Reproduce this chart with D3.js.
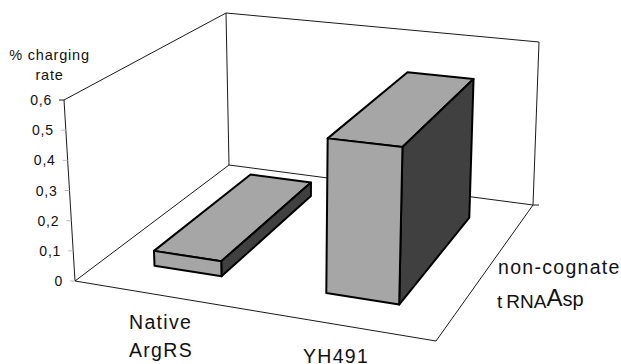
<!DOCTYPE html>
<html>
<head>
<meta charset="utf-8">
<script src="https://cdn.jsdelivr.net/npm/d3@7"></script>
<style>
  html, body { margin: 0; padding: 0; background: #fff; }
  text { font-family: "Liberation Sans", Arial, sans-serif; fill: #111; }
</style>
</head>
<body>
<div id="chart"></div>
<script>
const categories = [['Native', 'ArgRS'], ['YH491']];
const charging = [0.05, 0.5];
const yTicks = [0, 0.1, 0.2, 0.3, 0.4, 0.5, 0.6];
const yTitle = ['% charging', 'rate'];

// corners of the chart box as seen on the page
const floorQuad = [[75, 281], [436, 341], [533, 205], [229, 165]];
const topQuad = [[64, 100], [441, 142], [539, 42], [226, 13]];

// unit square -> quad
function homography(q) {
    const [p0, p1, p2, p3] = q;
    const dx1 = p1[0] - p2[0], dx2 = p3[0] - p2[0], sx = p0[0] - p1[0] + p2[0] - p3[0];
    const dy1 = p1[1] - p2[1], dy2 = p3[1] - p2[1], sy = p0[1] - p1[1] + p2[1] - p3[1];
    const den = dx1 * dy2 - dx2 * dy1;
    const g = (sx * dy2 - dx2 * sy) / den;
    const h = (dx1 * sy - sx * dy1) / den;
    const a = p1[0] - p0[0] + g * p1[0], b = p3[0] - p0[0] + h * p3[0];
    const d = p1[1] - p0[1] + g * p1[1], e = p3[1] - p0[1] + h * p3[1];
    return (u, v) => {
        const w = g * u + h * v + 1;
        return [(a * u + b * v + p0[0]) / w, (d * u + e * v + p0[1]) / w];
    };
}
const floorAt = homography(floorQuad);
const topAt = homography(topQuad);

const xScale = d3.scaleBand().domain(d3.range(categories.length)).range([0, 1]).paddingInner(0.6).paddingOuter(0.3);
const zScale = d3.scaleLinear().domain([0, 1]).range([0.17, 0.83]);
const yScale = d3.scaleLinear().domain([0, 0.6]).range([0, 1]);

function project(u, v, val) {
    const f = floorAt(u, v), t = topAt(u, v), k = yScale(val);
    return [f[0] + (t[0] - f[0]) * k, f[1] + (t[1] - f[1]) * k];
}

const svg = d3.select('#chart').append('svg')
    .attr('width', 621)
    .attr('height', 364)
    .style('display', 'block');

const line = d3.line();

// walls and floor
const walls = [
    [project(0, 0, 0), project(1, 0, 0), project(1, 1, 0), project(0, 1, 0), project(0, 0, 0)],
    [project(0, 0, 0), project(0, 0, 0.6), project(0, 1, 0.6), project(1, 1, 0.6), project(1, 1, 0)],
    [project(0, 1, 0), project(0, 1, 0.6)]
];
svg.selectAll('.wall')
    .data(walls)
    .enter()
    .append('path')
    .attr('class', 'wall')
    .attr('d', d => line(d))
    .attr('fill', 'none')
    .attr('stroke', '#1a1a1a')
    .attr('stroke-width', 1);

// y axis ticks and labels
const tickG = svg.selectAll('.tick')
    .data(yTicks)
    .enter()
    .append('g')
    .attr('class', 'tick')
    .attr('transform', d => {
        const p = project(0, 0, d);
        return `translate(${p[0]},${p[1]})`;
    });
tickG.append('line')
    .attr('x1', -5)
    .attr('x2', 0)
    .attr('stroke', d => d === 0.6 ? '#1a1a1a' : '#bbb');
tickG.append('text')
    .attr('x', -12)
    .attr('y', 5)
    .attr('text-anchor', 'end')
    .attr('font-size', '14px')
    .style('letter-spacing', '0.8px')
    .text(d => String(d).replace('.', ','));

// depth tick at the far corner
const c = project(1, 1, 0);
svg.append('line')
    .attr('x1', c[0])
    .attr('x2', c[0] + 6)
    .attr('y1', c[1])
    .attr('y2', c[1])
    .attr('stroke', '#1a1a1a');

svg.selectAll('.ytitle')
    .data(yTitle)
    .enter()
    .append('text')
    .attr('class', 'ytitle')
    .attr('x', 49.5)
    .attr('y', (d, i) => 60 + i * 20)
    .attr('text-anchor', 'middle')
    .attr('font-size', '14.5px')
    .style('letter-spacing', '0.8px')
    .text(d => d);

// bars, back to front is just left to right here
charging.forEach(function(val, i) {
    const u0 = xScale(i), u1 = u0 + xScale.bandwidth();
    const v0 = zScale(0), v1 = zScale(1);
    const faces = [
        { fill: '#a6a6a6', pts: [[u0, v0, val], [u1, v0, val], [u1, v1, val], [u0, v1, val]] },
        { fill: '#404040', pts: [[u1, v0, 0], [u1, v1, 0], [u1, v1, val], [u1, v0, val]] },
        { fill: '#a6a6a6', pts: [[u0, v0, 0], [u1, v0, 0], [u1, v0, val], [u0, v0, val]] }
    ];
    svg.selectAll('.bar' + i)
        .data(faces)
        .enter()
        .append('path')
        .attr('class', 'bar' + i)
        .attr('d', d => line(d.pts.map(p => project(p[0], p[1], p[2]))) + 'Z')
        .attr('fill', d => d.fill)
        .attr('stroke', '#000')
        .attr('stroke-width', 2)
        .attr('stroke-linejoin', 'round');
});

// category labels
const labelPos = [[129, 329], [303, 363]];
categories.forEach(function(lines, i) {
    lines.forEach(function(t, j) {
        svg.append('text')
            .attr('x', labelPos[i][0])
            .attr('y', labelPos[i][1] + j * 28)
            .attr('font-size', '19.5px')
            .style('letter-spacing', '1.3px')
            .text(t);
    });
});

// depth label
svg.append('text')
    .attr('x', 498)
    .attr('y', 274)
    .attr('font-size', '19.5px')
    .style('letter-spacing', '1.3px')
    .text('non-cognate');
const trna = svg.append('text')
    .attr('x', 497)
    .attr('y', 308)
    .attr('font-size', '19px');
trna.append('tspan').text('t');
trna.append('tspan').attr('dx', 4).text('RNA');
trna.append('tspan').attr('dy', -2).attr('font-size', '24px').text('A');
trna.append('tspan').attr('font-size', '20px').text('sp');
</script>
</body>
</html>
